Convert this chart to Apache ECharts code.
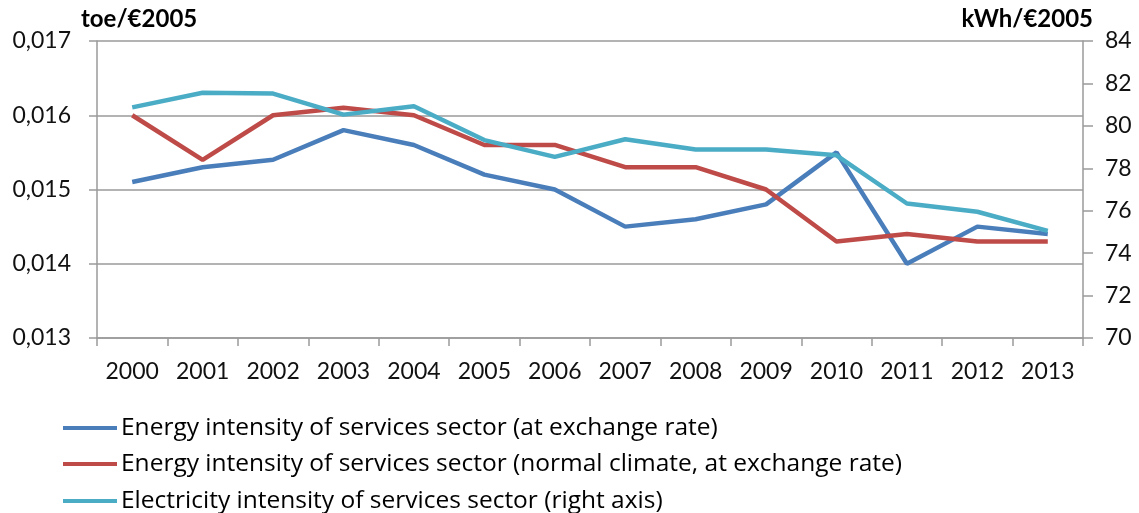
<!DOCTYPE html>
<html>
<head>
<meta charset="utf-8">
<script src="https://cdn.jsdelivr.net/npm/echarts@6/dist/echarts.min.js"></script>
<style>html,body{margin:0;padding:0;background:#fff;}#c{width:1139px;height:513px;}</style>
</head>
<body>
<div id="c"></div>
<script>
const years = ['2000','2001','2002','2003','2004','2005','2006','2007','2008','2009','2010','2011','2012','2013'];
const energyIntensity = [0.0151, 0.0153, 0.0154, 0.0158, 0.0156, 0.0152, 0.0150, 0.0145, 0.0146, 0.0148, 0.0155, 0.0140, 0.0145, 0.0144];
const energyIntensityNormal = [0.0160, 0.0154, 0.0160, 0.0161, 0.0160, 0.0156, 0.0156, 0.0153, 0.0153, 0.0150, 0.0143, 0.0144, 0.0143, 0.0143];
const electricityIntensity = [80.87, 81.56, 81.52, 80.53, 80.92, 79.33, 78.54, 79.37, 78.89, 78.89, 78.61, 76.34, 75.95, 75.05];
const seriesNames = [
  'Energy intensity of services sector (at exchange rate)',
  'Energy intensity of services sector (normal climate, at exchange rate)',
  'Electricity intensity of services sector (right axis)'
];
const leftUnit = 'toe/€2005';
const rightUnit = 'kWh/€2005';

const FONT = 'Lato';
const LEGEND_FONT = 'Open Sans';
const gray = '#9a9a9a';
const legendTops = [410, 446, 483];
const chart = echarts.init(document.getElementById('c'), null, {renderer: 'canvas'});
chart.setOption({
  animation: false,
  textStyle: {fontFamily: FONT},
  grid: {left: 97, right: 56, top: 41, bottom: 175, containLabel: false},
  legend: seriesNames.map((n, i) => ({
    orient: 'horizontal', left: 58, top: legendTops[i],
    itemWidth: 54, itemHeight: 4, icon: 'rect', itemGap: 5,
    textStyle: {fontFamily: LEGEND_FONT, fontSize: 24.5, color: '#000', lineHeight: 26, padding: [0,0,0,-1]},
    data: [n]
  })),
  xAxis: {
    type: 'category', data: years, boundaryGap: true,
    axisLine: {lineStyle: {color: gray, width: 1.5}},
    axisTick: {show: true, length: 8, lineStyle: {color: gray, width: 1.5}},
    axisLabel: {fontFamily: FONT, fontSize: 23, color: '#111', margin: 22, interval: 0}
  },
  yAxis: [{
    type: 'value', min: 0.013, max: 0.017, interval: 0.001, position: 'left',
    name: leftUnit, nameLocation: 'end', nameGap: 10,
    nameTextStyle: {fontFamily: FONT, fontSize: 24, fontWeight: 'bold', color: '#000', align: 'left', verticalAlign: 'bottom', padding: [0,0,0,-16]},
    axisLine: {show: true, lineStyle: {color: gray, width: 1.5}},
    axisTick: {show: true, length: 8, lineStyle: {color: gray, width: 1.5}},
    splitLine: {show: true, lineStyle: {color: gray, width: 1.5}},
    axisLabel: {fontFamily: FONT, fontSize: 23, color: '#111', margin: 26,
      formatter: v => v.toFixed(3).replace('.', ',')}
  }, {
    type: 'value', min: 70, max: 84, interval: 2, position: 'right',
    name: rightUnit, nameLocation: 'end', nameGap: 10,
    nameTextStyle: {fontFamily: FONT, fontSize: 24, fontWeight: 'bold', color: '#000', align: 'right', verticalAlign: 'bottom', padding: [0,-10,0,0]},
    axisLine: {show: true, lineStyle: {color: gray, width: 1.5}},
    axisTick: {show: true, length: 10, lineStyle: {color: gray, width: 1.5}},
    splitLine: {show: false},
    axisLabel: {fontFamily: FONT, fontSize: 23, color: '#111', margin: 22}
  }],
  series: [{
    name: seriesNames[0], type: 'line', yAxisIndex: 0, data: energyIntensity,
    symbol: 'none', lineStyle: {color: '#4A7EBB', width: 4.5}, itemStyle: {color: '#4A7EBB'}
  }, {
    name: seriesNames[1], type: 'line', yAxisIndex: 0, data: energyIntensityNormal,
    symbol: 'none', lineStyle: {color: '#BE4B48', width: 4.5}, itemStyle: {color: '#BE4B48'}
  }, {
    name: seriesNames[2], type: 'line', yAxisIndex: 1, data: electricityIntensity,
    symbol: 'none', lineStyle: {color: '#4BACC6', width: 4.5}, itemStyle: {color: '#4BACC6'}
  }]
});
</script>
</body>
</html>
